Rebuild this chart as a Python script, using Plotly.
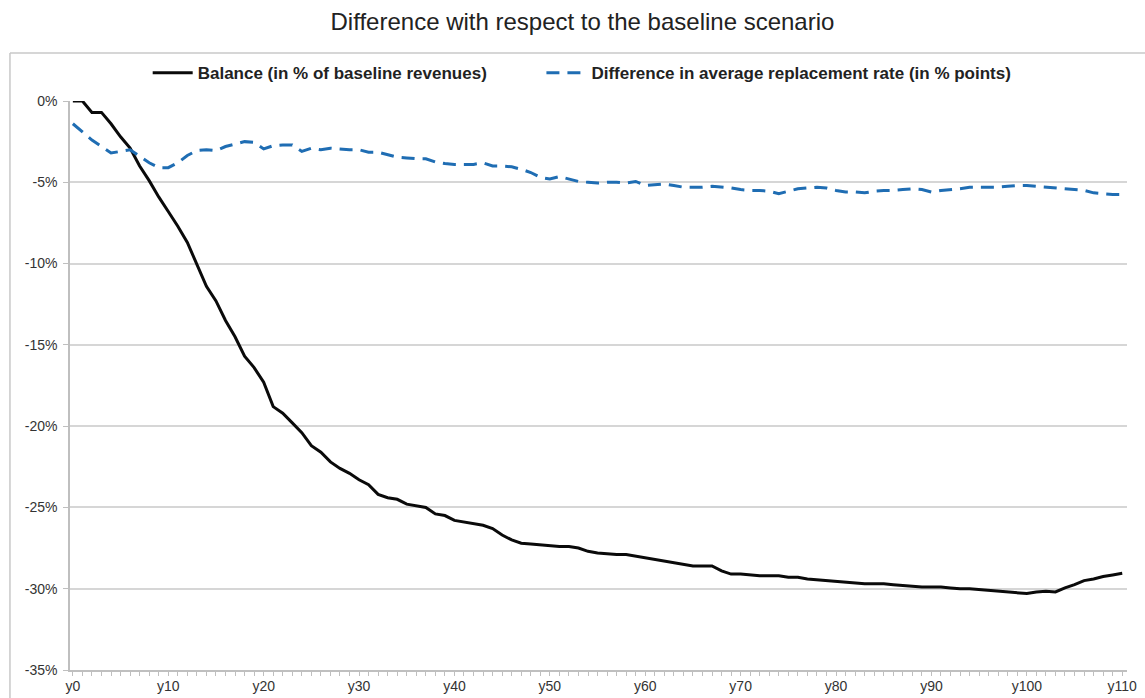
import plotly.graph_objects as go

years = list(range(0, 111))
tick_years = list(range(0, 111, 10))
tick_labels = ["y%d" % t for t in tick_years]
y_ticks = [0, -5, -10, -15, -20, -25, -30, -35]
y_tick_labels = ["0%", "-5%", "-10%", "-15%", "-20%", "-25%", "-30%", "-35%"]

balance = [
    0, 0, -0.7, -0.7, -1.4, -2.2, -2.9, -4.0, -4.9, -5.9,
    -6.8, -7.7, -8.7, -10.0, -11.4, -12.3, -13.5, -14.5, -15.7, -16.4,
    -17.3, -18.8, -19.2, -19.8, -20.4, -21.2, -21.6, -22.2, -22.6, -22.9,
    -23.3, -23.6, -24.2, -24.4, -24.5, -24.8, -24.9, -25.0, -25.4, -25.5,
    -25.8, -25.9, -26.0, -26.1, -26.3, -26.7, -27.0, -27.2, -27.25, -27.3,
    -27.35, -27.4, -27.4, -27.5, -27.7, -27.8, -27.85, -27.9, -27.9, -28.0,
    -28.1, -28.2, -28.3, -28.4, -28.5, -28.6, -28.6, -28.6, -28.9, -29.1,
    -29.1, -29.15, -29.2, -29.2, -29.2, -29.3, -29.3, -29.4, -29.45, -29.5,
    -29.55, -29.6, -29.65, -29.7, -29.7, -29.7, -29.75, -29.8, -29.85, -29.9,
    -29.9, -29.9, -29.95, -30.0, -30.0, -30.05, -30.1, -30.15, -30.2, -30.25,
    -30.3, -30.2, -30.15, -30.2, -29.95, -29.75, -29.5, -29.4, -29.25, -29.15,
    -29.05,
]

replacement = [
    -1.4, -1.9, -2.4, -2.8, -3.2, -3.1, -3.0, -3.4, -3.8, -4.1,
    -4.1, -3.8, -3.35, -3.05, -3.0, -3.05, -2.8, -2.65, -2.5, -2.55,
    -2.95, -2.75, -2.7, -2.7, -3.1, -2.9, -3.0, -2.9, -2.95, -3.0,
    -3.0, -3.15, -3.15, -3.3, -3.45, -3.5, -3.55, -3.55, -3.75, -3.85,
    -3.9, -3.9, -3.9, -3.8, -4.0, -4.0, -4.05, -4.2, -4.4, -4.7,
    -4.8, -4.65, -4.8, -4.95, -5.0, -5.05, -5.0, -5.0, -5.05, -4.95,
    -5.2, -5.15, -5.1, -5.2, -5.3, -5.3, -5.3, -5.25, -5.3, -5.35,
    -5.45, -5.5, -5.5, -5.55, -5.7, -5.55, -5.4, -5.35, -5.3, -5.35,
    -5.5, -5.6, -5.6, -5.65, -5.55, -5.5, -5.5, -5.45, -5.4, -5.45,
    -5.6, -5.5, -5.45, -5.4, -5.3, -5.3, -5.3, -5.3, -5.25, -5.2,
    -5.2, -5.25, -5.3, -5.35, -5.4, -5.45, -5.5, -5.65, -5.7, -5.75,
    -5.75,
]

FONT = "Liberation Sans, Arial, sans-serif"

fig = go.Figure()
fig.add_trace(go.Scatter(
    x=years, y=balance, mode="lines",
    name="<b>Balance (in % of baseline revenues)</b>",
    line=dict(color="#0a0a0a", width=3),
    cliponaxis=False, legend="legend",
))
fig.add_trace(go.Scatter(
    x=years, y=replacement, mode="lines",
    name="<b>Difference in average replacement rate (in % points)</b>",
    line=dict(color="#1f6db3", width=3, dash="13px,8px"),
    cliponaxis=False, legend="legend2",
))

legend_common = dict(
    orientation="h", xanchor="left", yanchor="middle", y=1.049,
    font=dict(family=FONT, size=17, color="#222222"),
    bgcolor="rgba(0,0,0,0)", itemwidth=40,
)

fig.update_layout(
    width=1145, height=698,
    paper_bgcolor="white", plot_bgcolor="white",
    margin=dict(l=70, r=18, t=101, b=28),
    font=dict(family=FONT, size=14, color="#333333"),
    title=dict(
        text="Difference with respect to the baseline scenario",
        x=0.5087, xanchor="center", xref="container",
        y=0.9685, yref="container", yanchor="middle",
        font=dict(family=FONT, size=24, color="#222222"),
    ),
    showlegend=True,
    legend=dict(x=0.0735, **legend_common),
    legend2=dict(x=0.446, **legend_common),
    xaxis=dict(
        range=[-0.3, 110.5],
        tickmode="array", tickvals=tick_years, ticktext=tick_labels,
        ticks="", showgrid=False, zeroline=False,
        showline=True, linecolor="#bfbfbf", linewidth=1.5,
        tickfont=dict(family=FONT, size=14, color="#333333"),
        ticklabelstandoff=2,
        automargin=False,
        minor=dict(dtick=1, tick0=0, ticks="outside", ticklen=4,
                   tickcolor="#bfbfbf", tickwidth=1, showgrid=False),
        fixedrange=True,
    ),
    yaxis=dict(
        range=[-35, 0],
        tickmode="array", tickvals=y_ticks, ticktext=y_tick_labels,
        showgrid=True, gridcolor="#d6d6d6", gridwidth=1.5,
        zeroline=False,
        showline=True, linecolor="#bfbfbf", linewidth=1.5,
        ticks="outside", ticklen=5, tickcolor="#bfbfbf",
        tickfont=dict(family=FONT, size=14, color="#333333"),
        ticklabelstandoff=3,
        automargin=False,
        fixedrange=True,
    ),
    shapes=[
        dict(type="line", xref="paper", yref="paper",
             x0=-0.0568, x1=1.02, y0=1.0844, y1=1.0844,
             line=dict(color="#c8c8c8", width=1.5)),
        dict(type="line", xref="paper", yref="paper",
             x0=-0.0568, x1=-0.0568, y0=-0.06, y1=1.0844,
             line=dict(color="#c8c8c8", width=1.5)),
    ],
)

fig.write_html("out.html", config={"displayModeBar": False},
               post_script="document.body.style.margin='0';")
